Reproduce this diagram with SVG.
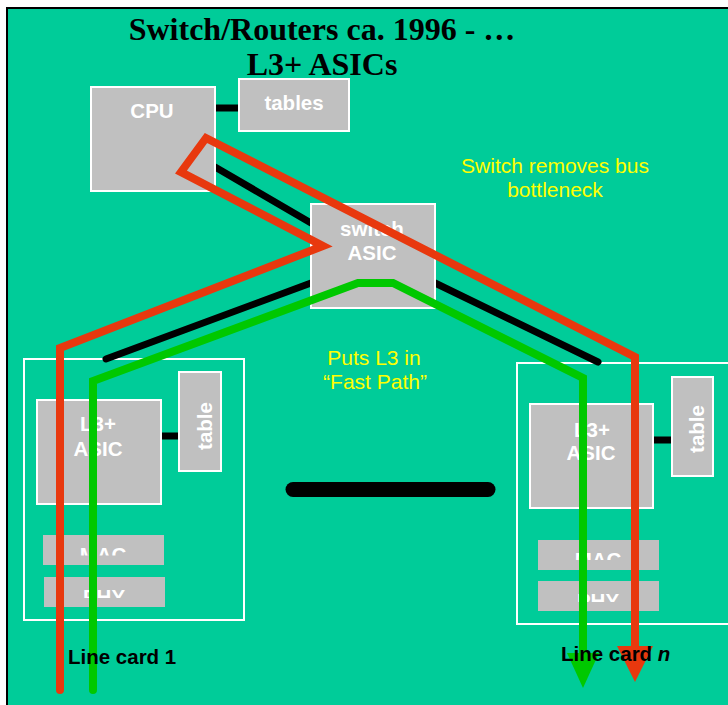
<svg xmlns="http://www.w3.org/2000/svg" width="728" height="705" viewBox="0 0 728 705">
<defs>
<style>
.box{fill:#C0C0C0;stroke:#FFFFFF;stroke-width:2}
.flat{fill:#C0C0C0}
.card{fill:none;stroke:#FFFFFF;stroke-width:2}
.lbl{font-family:"Liberation Sans",Arial,sans-serif;font-weight:bold;font-size:20.5px;fill:#FFFFFF;text-anchor:middle}
.note{font-family:"Liberation Sans",Arial,sans-serif;font-size:21px;fill:#FFFF00;text-anchor:middle}
.title{font-family:"Liberation Serif","Times New Roman",serif;font-weight:bold;font-size:32px;fill:#000000;text-anchor:middle}
.card-lbl{font-family:"Liberation Sans",Arial,sans-serif;font-weight:bold;font-size:20.5px;fill:#000000}
.bus{fill:none;stroke:#000000;stroke-width:7;stroke-linecap:round}
.red{fill:none;stroke:#E8380E;stroke-width:8;stroke-linejoin:miter;stroke-linecap:round}
.green{fill:none;stroke:#00C800;stroke-width:8;stroke-linejoin:miter;stroke-linecap:round}
</style>
<clipPath id="clipMac1"><rect x="40" y="530" width="130" height="25.5"/></clipPath>
<clipPath id="clipPhy1"><rect x="40" y="575" width="130" height="23"/></clipPath>
<clipPath id="clipMacN"><rect x="535" y="538" width="130" height="22"/></clipPath>
<clipPath id="clipPhyN"><rect x="535" y="579" width="130" height="23"/></clipPath>
</defs>

<rect x="7" y="8" width="730" height="705" fill="#00CC99" stroke="#000000" stroke-width="2"/>

<g id="title">
<text class="title" x="322" y="40">Switch/Routers ca. 1996 - …</text>
<text class="title" x="322" y="75">L3+ ASICs</text>
</g>

<g id="linecard1">
<rect class="card" x="24" y="359" width="220" height="261"/>
</g>
<g id="linecardn">
<rect class="card" x="517" y="363" width="220" height="261"/>
</g>

<g id="connectors">
<line class="bus" x1="215" y1="108" x2="239" y2="108" stroke-linecap="butt"/>
<line class="bus" x1="215" y1="167" x2="311" y2="223" stroke-linecap="butt"/>
<line class="bus" x1="106" y1="359" x2="311" y2="283"/>
<line class="bus" x1="435" y1="283" x2="598" y2="362"/>
<line class="bus" x1="161" y1="436" x2="179" y2="436" stroke-linecap="butt"/>
<line class="bus" x1="653" y1="440" x2="672" y2="440" stroke-linecap="butt"/>
<line x1="293" y1="489.5" x2="488" y2="489.5" stroke="#000000" stroke-width="15" stroke-linecap="round"/>
</g>

<g id="cpu">
<rect class="box" x="91" y="87" width="124" height="104"/>
<text class="lbl" x="152" y="118">CPU</text>
</g>
<g id="tables">
<rect class="box" x="239" y="79" width="110" height="52"/>
<text class="lbl" x="294" y="110">tables</text>
</g>
<g id="switch-asic">
<rect class="box" x="311" y="204" width="124" height="104"/>
<text class="lbl" x="372" y="236">switch</text>
<text class="lbl" x="372" y="260">ASIC</text>
</g>

<g id="l3asic1">
<rect class="box" x="37" y="400" width="124" height="104"/>
<text class="lbl" x="98" y="431">L3+</text>
<text class="lbl" x="98" y="456">ASIC</text>
</g>
<g id="table1">
<rect class="box" x="179" y="372" width="42" height="99"/>
<text class="lbl" transform="translate(212,426) rotate(-90)">table</text>
</g>
<g id="mac1">
<rect class="flat" x="43" y="535" width="121" height="30"/>
<text class="lbl" x="103" y="562" clip-path="url(#clipMac1)">MAC</text>
</g>
<g id="phy1">
<rect class="flat" x="44" y="577" width="121" height="30"/>
<text class="lbl" x="104" y="604" clip-path="url(#clipPhy1)">PHY</text>
</g>

<g id="l3asicn">
<rect class="box" x="530" y="404" width="123" height="104"/>
<text class="lbl" x="592" y="437">L3+</text>
<text class="lbl" x="591" y="460">ASIC</text>
</g>
<g id="tablen">
<rect class="box" x="672" y="377" width="41" height="99"/>
<text class="lbl" transform="translate(704,429) rotate(-90)">table</text>
</g>
<g id="macn">
<rect class="flat" x="538" y="540" width="121" height="30"/>
<text class="lbl" x="598" y="567" clip-path="url(#clipMacN)">MAC</text>
</g>
<g id="phyn">
<rect class="flat" x="538" y="581" width="121" height="30"/>
<text class="lbl" x="598" y="608" clip-path="url(#clipPhyN)">PHY</text>
</g>

<g id="paths">
<path class="red" d="M60,690 L60,348 L323,246 L181,172 L206,138 L635,357 L635,655"/>
<path class="green" d="M93,690 L93,381 L358,283 L393,283 L583,378 L583,660"/>
<polygon points="617,646 653,646 635,682" fill="#E8380E"/>
<polygon points="567,653 599,653 583,688" fill="#00C800"/>
</g>

<g id="notes">
<text class="note" x="555" y="173">Switch removes bus</text>
<text class="note" x="555" y="197">bottleneck</text>
<text class="note" x="374" y="365">Puts L3 in</text>
<text class="note" x="375" y="389">“Fast Path”</text>
</g>

<g id="card-labels">
<text class="card-lbl" x="68" y="664">Line card 1</text>
<text class="card-lbl" x="561" y="661">Line card <tspan font-style="italic">n</tspan></text>
</g>
</svg>
